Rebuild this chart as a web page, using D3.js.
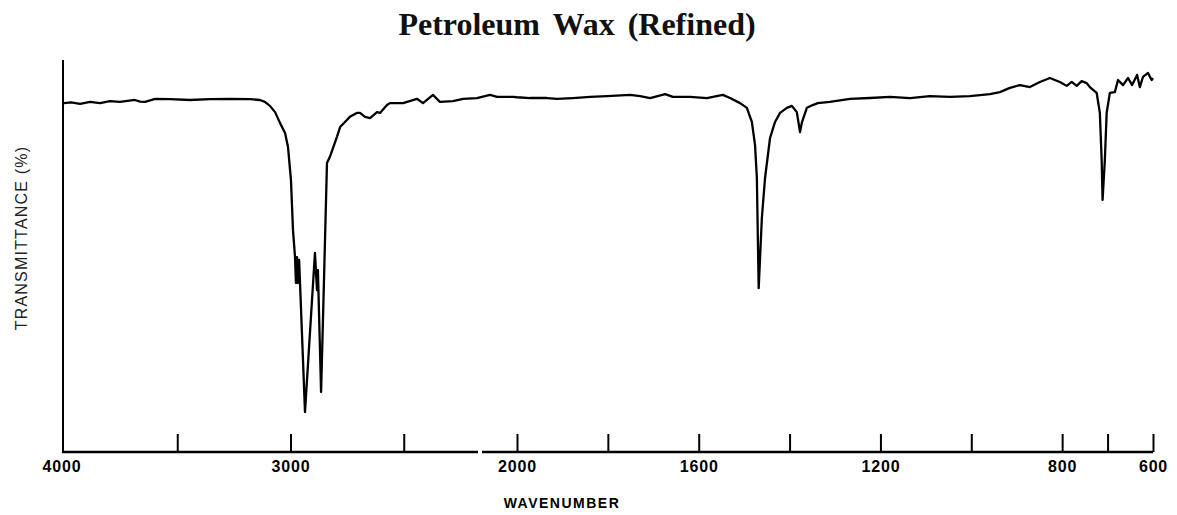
<!DOCTYPE html>
<html>
<head>
<meta charset="utf-8">
<script src="https://cdn.jsdelivr.net/npm/d3@7"></script>
<style>
  body { margin: 0; background: #fff; }
  .tick text { font-family: "Liberation Sans", Arial, sans-serif; font-weight: bold; font-size: 16px; }
</style>
</head>
<body>
<svg id="chart"></svg>
<script>
const width = 1177;
const height = 515;

// Spectrum: wavenumber (cm-1) and transmittance (%)
const wavenumber = [
    4000, 3969, 3929, 3885, 3841, 3797, 3753, 3687, 3664, 3642, 3598, 3532, 3444, 3355, 3267,
    3179, 3135, 3113, 3091, 3068, 3046, 3024, 3011, 2998, 2989, 2980, 2976, 2971, 2967, 2962,
    2958, 2936, 2892, 2883, 2879, 2865, 2857, 2839, 2826, 2795, 2781, 2751, 2738, 2707, 2693,
    2671, 2649, 2618, 2605, 2574, 2561, 2530, 2503, 2442, 2415, 2371, 2340, 2283, 2238, 2177,
    2119, 2088, 2018, 2000, 1971, 1949, 1934, 1912, 1877, 1839, 1802, 1751, 1729, 1707, 1674,
    1657, 1619, 1582, 1547, 1531, 1509, 1494, 1487, 1483, 1476, 1472, 1468, 1461, 1454, 1443,
    1432, 1421, 1406, 1395, 1384, 1377, 1373, 1362, 1349, 1338, 1311, 1267, 1223, 1179, 1135,
    1091, 1047, 1003, 959, 937, 915, 893, 871, 849, 827, 805, 790, 779, 768, 757,
    746, 739, 724, 717, 713, 711, 706, 702, 695, 684, 677, 666, 655, 646, 635,
    629, 622, 611, 603, 600
];
const transmittance = [
    89.0, 89.2, 88.8, 89.3, 89.0, 89.5, 89.3, 89.8, 89.4, 89.3, 90.1, 90.0, 89.8, 90.0, 90.1,
    90.0, 89.8, 89.3, 88.3, 86.7, 83.9, 81.4, 77.8, 69.4, 56.6, 49.7, 43.1, 49.7, 43.1, 49.0,
    43.1, 10.2, 50.8, 41.3, 46.4, 15.3, 32.9, 73.7, 75.3, 80.4, 82.9, 84.7, 85.5, 86.5, 86.5,
    85.5, 85.2, 86.7, 86.5, 88.5, 89.0, 89.0, 89.0, 90.1, 89.0, 91.1, 89.3, 89.5, 90.1, 90.3,
    91.1, 90.6, 90.6, 90.5, 90.3, 90.3, 90.3, 90.1, 90.3, 90.6, 90.8, 91.1, 90.8, 90.3, 91.3,
    90.6, 90.6, 90.3, 91.1, 90.3, 89.0, 87.8, 85.5, 84.2, 78.3, 69.9, 41.8, 59.7, 69.9, 80.1,
    84.2, 86.5, 87.8, 88.3, 86.7, 81.6, 84.0, 87.8, 88.5, 89.0, 89.3, 90.1, 90.3, 90.6, 90.3,
    90.8, 90.6, 90.8, 91.3, 91.8, 92.9, 93.6, 93.1, 94.4, 95.4, 94.4, 93.4, 94.4, 93.4, 94.6,
    94.1, 93.1, 91.6, 86.5, 74.5, 64.3, 74.5, 86.5, 91.6, 91.8, 94.9, 93.6, 95.4, 93.6, 96.2,
    93.1, 95.7, 96.7, 94.9, 95.4
];

// Axis ticks (4000-2000 drawn at half the scale of 2000-600)
const tickValues = [3500, 3000, 2500, 2000, 1800, 1600, 1400, 1200, 1000, 800, 700, 600];
const labelValues = [4000, 3000, 2000, 1600, 1200, 800, 600];
const axisBreak = [2172, 2146];

const svg = d3.select('#chart')
    .attr('width', width)
    .attr('height', height);

const x = d3.scaleLinear()
    .domain([4000, 2000, 600])
    .range([64, 517, 1153]);

const y = d3.scaleLinear()
    .domain([0, 100])
    .range([452, 60]);

// Title
svg.append('text')
    .attr('x', 577)
    .attr('y', 35)
    .attr('text-anchor', 'middle')
    .style('font-family', '"Liberation Serif", "Times New Roman", serif')
    .style('font-weight', 'bold')
    .style('font-size', '32px')
    .style('word-spacing', '5px')
    .attr('fill', '#111')
    .text('Petroleum Wax (Refined)');

// Left axis line
svg.append('line')
    .attr('x1', x(4000) - 1).attr('x2', x(4000) - 1)
    .attr('y1', y(100)).attr('y2', y(0))
    .attr('stroke', '#000')
    .attr('stroke-width', 2);

// Bottom axis: ticks pointing up, labels below
const xAxis = d3.axisBottom(x)
    .tickValues(tickValues)
    .tickSize(-18)
    .tickPadding(9)
    .tickFormat(d => labelValues.includes(d) ? d : '');

const axisG = svg.append('g')
    .attr('transform', `translate(0,${y(0)})`)
    .call(xAxis);
axisG.select('.domain').remove();
axisG.selectAll('.tick line').attr('stroke-width', 2);

// 4000 label sits under the left axis
axisG.append('g')
    .attr('class', 'tick')
    .attr('transform', `translate(${x(4000) - 2},0)`)
    .append('text')
    .attr('fill', '#000')
    .attr('y', 9)
    .attr('dy', '0.71em')
    .attr('text-anchor', 'middle')
    .text(4000);

axisG.selectAll('.tick text').style('letter-spacing', '0.8px');

// Axis line with its small break
[[4000, axisBreak[0]], [axisBreak[1], 600]].forEach(seg => {
    svg.append('line')
        .attr('x1', x(seg[0]) - 2).attr('x2', x(seg[1]))
        .attr('y1', y(0)).attr('y2', y(0))
        .attr('stroke', '#000')
        .attr('stroke-width', 2.5);
});

// Axis titles
svg.append('text')
    .attr('x', 562)
    .attr('y', 508)
    .attr('text-anchor', 'middle')
    .style('font-family', '"Liberation Sans", Arial, sans-serif')
    .style('font-weight', 'bold')
    .style('font-size', '14px')
    .style('letter-spacing', '1.5px')
    .text('WAVENUMBER');

svg.append('text')
    .attr('transform', 'translate(27,238) rotate(-90)')
    .attr('text-anchor', 'middle')
    .style('font-family', '"Liberation Sans", Arial, sans-serif')
    .style('font-size', '16px')
    .style('letter-spacing', '1.2px')
    .attr('fill', '#222')
    .text('TRANSMITTANCE (%)');

// Spectrum
const points = wavenumber.map((w, i) => [w, transmittance[i]]);
const line = d3.line()
    .x(d => x(d[0]))
    .y(d => y(d[1]));

svg.append('path')
    .datum(points)
    .attr('d', line)
    .attr('fill', 'none')
    .attr('stroke', '#000')
    .attr('stroke-width', 2.3)
    .attr('stroke-linejoin', 'round');
</script>
</body>
</html>
